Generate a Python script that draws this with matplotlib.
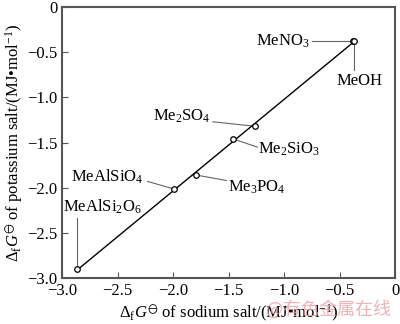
import numpy as np
import matplotlib.pyplot as plt

plt.rcParams['font.family'] = ['Liberation Serif', 'Noto Sans CJK SC', 'DejaVu Sans']
plt.rcParams['mathtext.fontset'] = 'custom'
plt.rcParams['mathtext.rm'] = 'Liberation Serif'
plt.rcParams['mathtext.it'] = 'Liberation Serif:italic'
plt.rcParams['mathtext.fallback'] = 'stix'

names = ['MeAlSi$_2$O$_6$', 'MeAlSiO$_4$', 'Me$_3$PO$_4$', 'Me$_2$SiO$_3$',
         'Me$_2$SO$_4$', 'MeNO$_3$', 'MeOH']
sodium = [-2.865, -1.99, -1.79, -1.46, -1.26, -0.375, -0.37]
potassium = [-2.90, -2.015, -1.86, -1.46, -1.32, -0.38, -0.375]
# where each leader line ends, and where the label sits (data units)
leader_end = [(-2.865, -2.34), (-2.23, -1.93), (-1.52, -1.92), (-1.24, -1.55),
              (-1.64, -1.27), (-0.75, -0.38), (-0.37, -0.70)]
label_xy = [(-2.99, -2.21), (-2.27, -1.88), (-1.50, -1.99), (-1.23, -1.58),
            (-1.66, -1.21), (-0.77, -0.38), (-0.32, -0.73)]
label_align = [('left', 'center'), ('right', 'center'), ('left', 'center'),
               ('left', 'center'), ('right', 'center'), ('right', 'center'),
               ('center', 'top')]
ticks = [-3, -2.5, -2, -1.5, -1, -0.5, 0]
tick_text = ['−3.0', '−2.5', '−2.0', '−1.5', '−1.0', '−0.5', '0']

def main():
    fig = plt.figure(figsize=(4.0, 3.24), dpi=100)
    ax = fig.add_axes([0.155, 0.142, 0.8325, 0.836])

    fit = np.polyfit(sodium, potassium, 1)
    xs = np.array([min(sodium), max(sodium)])
    ax.plot(xs, np.polyval(fit, xs), color='black', lw=1.0, zorder=2)

    for name, x, y, (ex, ey), (tx, ty), (ha, va) in zip(names, sodium, potassium,
                                                        leader_end, label_xy, label_align):
        ax.plot([x, ex], [y, ey], color='#666666', lw=0.8, zorder=1)
        ax.text(tx, ty, name, fontsize=12, ha=ha, va=va)
    ax.plot(sodium, potassium, 'o', ms=4, mfc='white', mec='black', mew=0.9, zorder=3)

    ax.set_xlim(-3, 0)
    ax.set_ylim(-3, 0)
    ax.set_xticks(ticks)
    ax.set_xticklabels(tick_text)
    ax.set_yticks(ticks)
    ax.set_yticklabels(tick_text)
    ax.tick_params(direction='in', length=4, width=0.8, labelsize=12, color='#555555')
    for s in ax.spines.values():
        s.set_color('#555555')
        s.set_linewidth(1.5)

    ax.set_xlabel(r'$\Delta_{\rm f}G^{\ominus}$ of sodium salt/(MJ•mol$^{-1}$)', fontsize=12, labelpad=3)
    ax.set_ylabel(r'$\Delta_{\rm f}G^{\ominus}$ of potassium salt/(MJ•mol$^{-1}$)', fontsize=12, labelpad=1)

    fig.text(0.665, 0.028, '@有色金属在线', color='#e8a0a8', alpha=0.8, fontsize=13,
             family=['Noto Sans CJK SC', 'DejaVu Sans'])
    fig.savefig('out.png', dpi=100)

if __name__ == '__main__':
    main()
